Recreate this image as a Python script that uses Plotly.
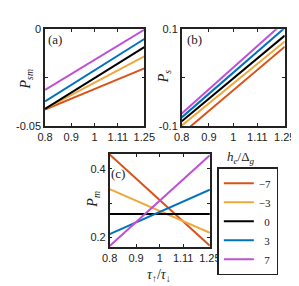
import plotly.graph_objects as go
import math

# ---- data ----
tau_ratio = [0.8, 1.25]                     # tau_up / tau_down (end points)
h_values = ["−7", "−3", "0", "3", "7"]      # h_e / Delta_g
colors = ["#D95319", "#EDA83C", "#000000", "#0072BD", "#C04FD6"]

# panel (a): P_sm
psm_m7 = [-0.0415, -0.0202]
psm_m3 = [-0.0411, -0.0140]
psm_0 = [-0.0411, -0.0092]
psm_3 = [-0.0372, -0.0050]
psm_7 = [-0.0313, -0.0002]

# panel (b): P_s
ps_m7 = [-0.116, 0.064]
ps_m3 = [-0.099, 0.075]
ps_0 = [-0.090, 0.087]
ps_3 = [-0.082, 0.103]
ps_7 = [-0.074, 0.116]

# panel (c): P_m
pm_m7 = [0.442, 0.175]
pm_m3 = [0.341, 0.213]
pm_0 = [0.268, 0.268]
pm_3 = [0.209, 0.339]
pm_7 = [0.174, 0.440]

x_ticks = [0.8, 0.9, 1, 1.11, 1.25]
x_ticktext = ["0.8", "0.9", "1", "1.11", "1.25"]

ya_ticks = [-0.05, 0]
ya_ticktext = ["-0.05", "0"]
ya_minor = [-0.025]
yb_ticks = [-0.1, 0.1]
yb_ticktext = ["-0.1", "0.1"]
yb_minor = [0]
yc_ticks = [0.2, 0.4]
yc_ticktext = ["0.2", "0.4"]
yc_minor = [0.3]

panel_a = [psm_m7, psm_m3, psm_0, psm_3, psm_7]
panel_b = [ps_m7, ps_m3, ps_0, ps_3, ps_7]
panel_c = [pm_m7, pm_m3, pm_0, pm_3, pm_7]

W, H = 299, 286
def px(x): return x / W
def py(y): return 1 - y / H

fig = go.Figure()
for i, lab in enumerate(h_values):
    fig.add_trace(go.Scatter(x=tau_ratio, y=panel_a[i], mode="lines",
                             line=dict(color=colors[i], width=2),
                             xaxis="x", yaxis="y", showlegend=False, legendgroup=lab))
    fig.add_trace(go.Scatter(x=tau_ratio, y=panel_b[i], mode="lines",
                             line=dict(color=colors[i], width=2),
                             xaxis="x2", yaxis="y2", showlegend=False, legendgroup=lab))
for i, lab in enumerate(h_values):
    name = lab if lab.startswith("−") else "\u2007" + lab
    fig.add_trace(go.Scatter(x=tau_ratio, y=panel_c[i], mode="lines", name=name,
                             line=dict(color=colors[i], width=2),
                             xaxis="x3", yaxis="y3", showlegend=True, legendgroup=lab))

axcol = "#222222"
tickfont = dict(family="Liberation Sans, Arial", size=11, color=axcol)
xr = [math.log10(0.8), math.log10(1.25)]

def xax(dom, anchor):
    return dict(domain=dom, anchor=anchor, type="log", range=xr,
                tickvals=x_ticks, ticktext=x_ticktext, ticks="inside", ticklen=3,
                tickcolor=axcol, tickwidth=1, showline=True, linecolor=axcol, linewidth=1.5,
                mirror="allticks", showgrid=False, zeroline=False, tickfont=tickfont)

def yax(dom, anchor, rng, tv, tt, mv):
    return dict(domain=dom, anchor=anchor, range=rng, tickvals=tv, ticktext=tt,
                ticks="inside", ticklen=3, tickcolor=axcol, tickwidth=1,
                minor=dict(tickvals=mv, ticks="inside", ticklen=3, tickcolor=axcol,
                           tickwidth=1, showgrid=False),
                showline=True, linecolor=axcol, linewidth=1.5, mirror="allticks",
                showgrid=False, zeroline=False, tickfont=tickfont)

ya_dom = [py(117), py(16)]
fig.update_layout(
    width=W, height=H, margin=dict(l=0, r=0, t=0, b=0),
    paper_bgcolor="white", plot_bgcolor="white",
    xaxis=xax([px(31), px(137)], "y"),
    yaxis=yax(ya_dom, "x", [-0.05, 0], ya_ticks, ya_ticktext, ya_minor),
    xaxis2=xax([px(177), px(287)], "y2"),
    yaxis2=yax(ya_dom, "x2", [-0.1, 0.1], yb_ticks, yb_ticktext, yb_minor),
    xaxis3=xax([px(100), px(207)], "y3"),
    yaxis3=yax([py(243), py(146)], "x3", [0.172, 0.444], yc_ticks, yc_ticktext, yc_minor),
    legend=dict(x=px(215), y=py(160), xanchor="left", yanchor="top",
                bgcolor="white", bordercolor=axcol, borderwidth=1.5,
                font=dict(family="Liberation Serif", size=11, color=axcol),
                tracegroupgap=0, itemwidth=30),
    showlegend=True,
)

serif = "Liberation Serif, DejaVu Serif, serif"
ann = [
    dict(text="(a)", x=px(42), y=py(27), size=13),
    dict(text="(b)", x=px(191), y=py(27), size=13),
    dict(text="(c)", x=px(109), y=py(167), size=13),
    dict(text="<i>P</i><sub><i>sm</i></sub>", x=px(11), y=py(68), textangle=-90, size=14),
    dict(text="<i>P</i><sub><i>s</i></sub>", x=px(158), y=py(65), textangle=-90, size=14),
    dict(text="<i>P</i><sub><i>m</i></sub>", x=px(83), y=py(193), textangle=-90, size=14),
    dict(text="<i>τ</i><sub>↑</sub>/<i>τ</i><sub>↓</sub>", x=px(153), y=py(273), size=14),
    dict(text="<i>h</i><sub><i>e</i></sub>/Δ<sub><i>g</i></sub>", x=px(240), y=py(150), size=13),
]
for a in ann:
    s = a.pop("size")
    a.update(xref="paper", yref="paper", showarrow=False, xanchor="center", yanchor="middle",
             font=dict(family=serif, size=s, color=axcol))
    fig.add_annotation(**a)

fig.write_html("out.html")
